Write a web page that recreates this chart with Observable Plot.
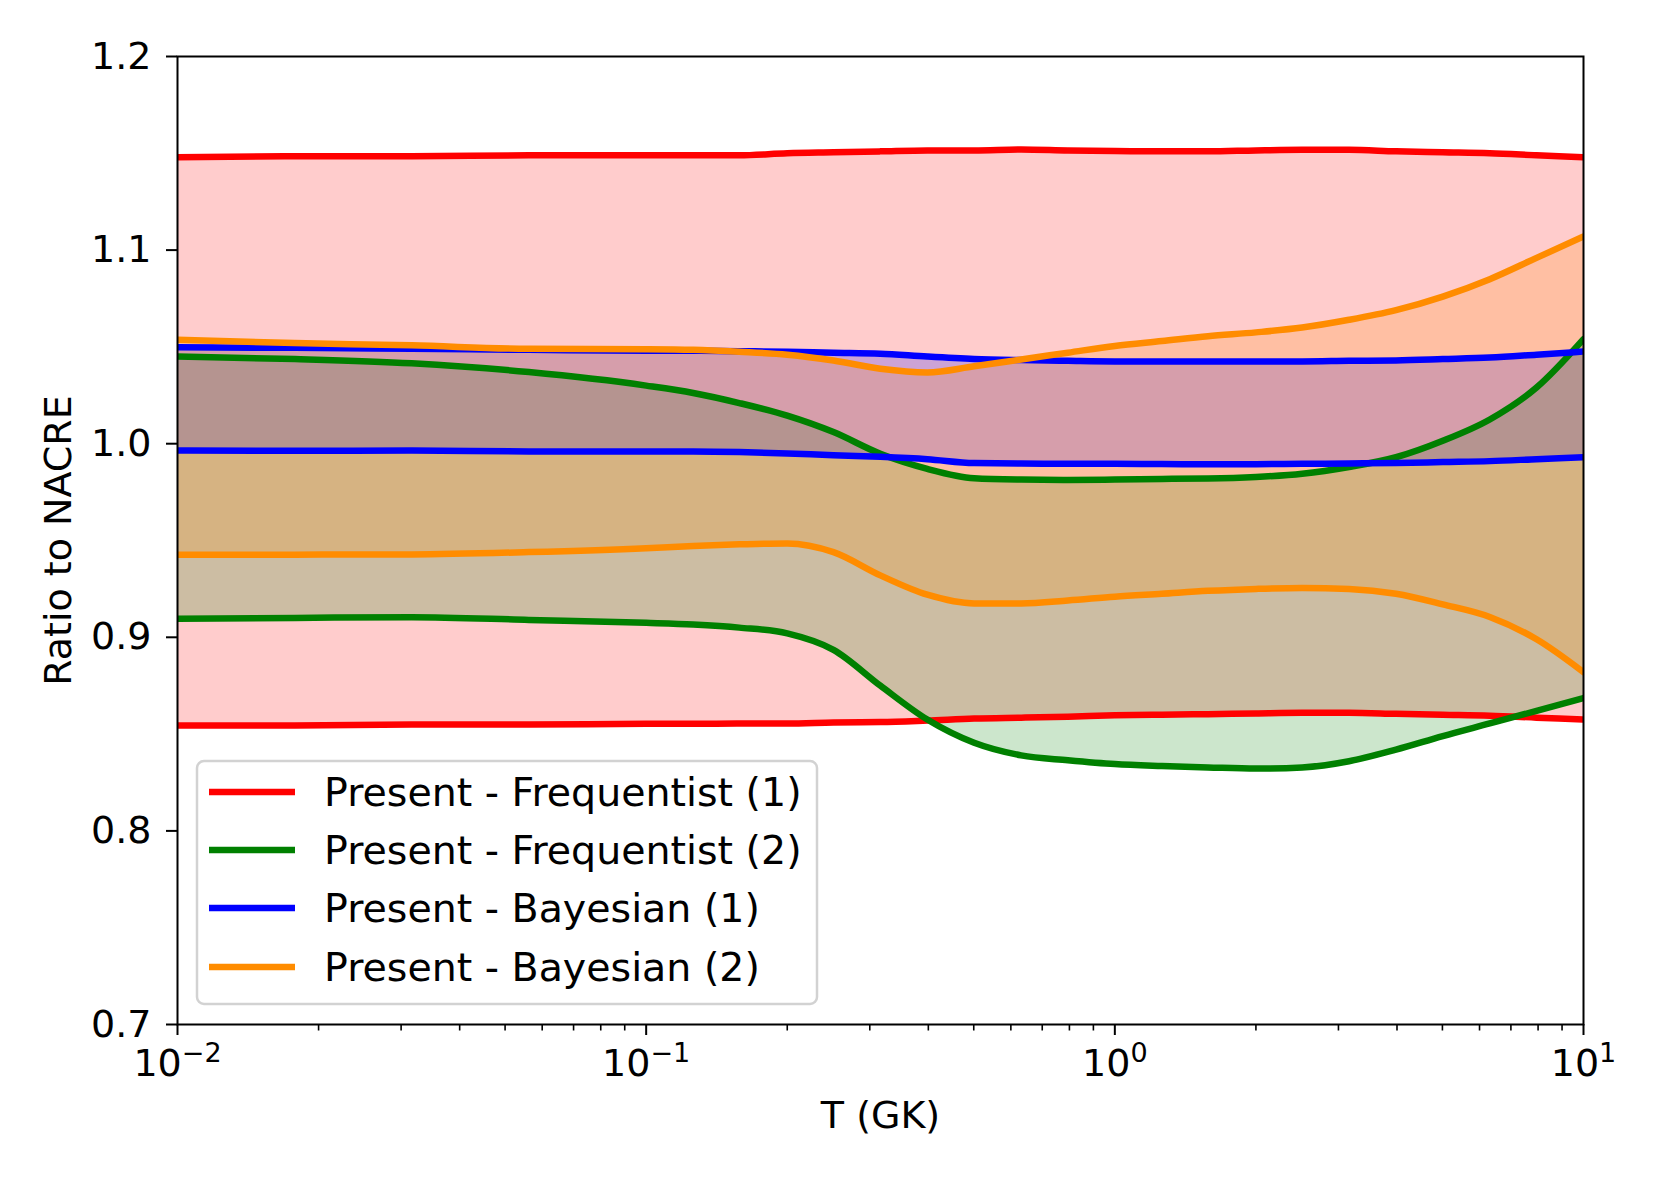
<!DOCTYPE html>
<html>
<head>
<meta charset="utf-8">
<script src="https://cdn.jsdelivr.net/npm/d3@7"></script>
<script src="https://cdn.jsdelivr.net/npm/@observablehq/plot@0.6"></script>
<style>
  html, body { margin: 0; padding: 0; background: white; }
  #chart { width: 1661px; height: 1186px; }
</style>
</head>
<body>
<div id="chart"></div>
<script>
// Temperature grid (GK)
const T = [0.01, 0.0178, 0.0316, 0.0562, 0.1, 0.126, 0.158, 0.2, 0.251, 0.316, 0.398, 0.501, 0.631, 0.794, 1, 1.26, 1.58, 2, 2.51, 3.16, 3.98, 5.01, 6.31, 7.94, 10];

// Present - Frequentist (1)
const freq1Hi = [1.148, 1.1485, 1.1485, 1.149, 1.149, 1.149, 1.149, 1.150, 1.1505, 1.151, 1.1515, 1.1515, 1.152, 1.1515, 1.1512, 1.151, 1.151, 1.1515, 1.1518, 1.1518, 1.151, 1.1505, 1.150, 1.149, 1.148];
const freq1Lo = [0.8545, 0.8545, 0.855, 0.855, 0.8553, 0.8553, 0.8555, 0.8555, 0.856, 0.8562, 0.857, 0.858, 0.8585, 0.859, 0.8597, 0.860, 0.8603, 0.8607, 0.861, 0.861, 0.8605, 0.860, 0.8595, 0.8585, 0.8575];

// Present - Frequentist (2)
const freq2Hi = [1.045, 1.0437, 1.0415, 1.037, 1.030, 1.0262, 1.021, 1.0145, 1.006, 0.9948, 0.9870, 0.9822, 0.9815, 0.9813, 0.9815, 0.9818, 0.982, 0.9828, 0.9845, 0.988, 0.993, 1.0015, 1.0125, 1.029, 1.054];
const freq2Lo = [0.9096, 0.910, 0.9104, 0.909, 0.9075, 0.9066, 0.905, 0.9020, 0.8935, 0.8750, 0.8575, 0.8455, 0.839, 0.8365, 0.8345, 0.8335, 0.8328, 0.8322, 0.8328, 0.8360, 0.8420, 0.8490, 0.8555, 0.8620, 0.8686];

// Present - Bayesian (1)
const bayes1Hi = [1.0498, 1.0495, 1.049, 1.0485, 1.048, 1.048, 1.0478, 1.0475, 1.047, 1.0465, 1.045, 1.0438, 1.0432, 1.0428, 1.0425, 1.0425, 1.0425, 1.0425, 1.0425, 1.0428, 1.043, 1.0437, 1.0445, 1.046, 1.0476];
const bayes1Lo = [0.9965, 0.9963, 0.9965, 0.996, 0.996, 0.996, 0.9957, 0.995, 0.994, 0.9932, 0.992, 0.990, 0.9898, 0.9896, 0.9896, 0.9895, 0.9894, 0.9894, 0.9896, 0.9898, 0.990, 0.9905, 0.991, 0.992, 0.993];

// Present - Bayesian (2)
const bayes2Hi = [1.0537, 1.052, 1.0508, 1.049, 1.0488, 1.0485, 1.0475, 1.046, 1.043, 1.0387, 1.0368, 1.040, 1.0435, 1.047, 1.0505, 1.053, 1.0555, 1.0575, 1.060, 1.064, 1.069, 1.076, 1.085, 1.096, 1.107];
const bayes2Lo = [0.9426, 0.9427, 0.9428, 0.944, 0.946, 0.9472, 0.948, 0.9485, 0.944, 0.932, 0.922, 0.9175, 0.9175, 0.919, 0.921, 0.9225, 0.924, 0.925, 0.9255, 0.925, 0.9225, 0.917, 0.9105, 0.899, 0.882];

const seriesNames = ["Present - Frequentist (1)", "Present - Frequentist (2)", "Present - Bayesian (1)", "Present - Bayesian (2)"];
const seriesColors = ["#ff0000", "#008000", "#0000ff", "#ff8c00"];
const seriesHi = [freq1Hi, freq2Hi, bayes1Hi, bayes2Hi];
const seriesLo = [freq1Lo, freq2Lo, bayes1Lo, bayes2Lo];

const xMajorTicks = [0.01, 0.1, 1, 10];
const xMajorLabels = ["10^−2", "10^−1", "10^0", "10^1"];
const xMinorTicks = [0.02,0.03,0.04,0.05,0.06,0.07,0.08,0.09,0.2,0.3,0.4,0.5,0.6,0.7,0.8,0.9,2,3,4,5,6,7,8,9];
const yTicks = [0.7, 0.8, 0.9, 1.0, 1.1, 1.2];

const tables = seriesNames.map((name, i) => T.map((t, j) => ({T: t, hi: seriesHi[i][j], lo: seriesLo[i][j], name})));

const FONT = "DejaVu Sans";
const curve = "monotone-x";
const LW = 6.5;

const marks = [];
tables.forEach((tab, i) => {
  marks.push(Plot.areaY(tab, {x: "T", y1: "lo", y2: "hi", fill: seriesColors[i], fillOpacity: 0.2, curve, clip: true}));
});
tables.forEach((tab, i) => {
  marks.push(Plot.lineY(tab, {x: "T", y: "hi", stroke: seriesColors[i], strokeWidth: LW, curve, clip: true}));
  marks.push(Plot.lineY(tab, {x: "T", y: "lo", stroke: seriesColors[i], strokeWidth: LW, curve, clip: true}));
});
marks.push(Plot.frame({stroke: "black", strokeWidth: 2}));
marks.push(Plot.axisY({ticks: yTicks, tickFormat: d3.format(".1f"), tickSize: 11, tickPadding: 15, fontSize: 38, strokeWidth: 2, label: null}));
marks.push(Plot.axisX({ticks: xMajorTicks, tickFormat: (d) => xMajorLabels[xMajorTicks.indexOf(d)], tickSize: 11, tickPadding: 14, fontSize: 38, strokeWidth: 2, label: null}));
marks.push(Plot.axisX({ticks: xMinorTicks, tickFormat: () => "", tickSize: 6.5, strokeWidth: 1.6, label: null}));
marks.push(Plot.text(["T (GK)"], {frameAnchor: "bottom", dy: 91, fontSize: 38, lineAnchor: "middle"}));
marks.push(Plot.text(["Ratio to NACRE"], {frameAnchor: "left", dx: -119, rotate: -90, fontSize: 38, lineAnchor: "middle", textAnchor: "middle"}));

const chart = Plot.plot({
  width: 1661,
  height: 1186,
  marginLeft: 177,
  marginRight: 78,
  marginTop: 56,
  marginBottom: 162,
  style: {fontFamily: FONT, fontSize: "38px", background: "white", color: "black"},
  x: {type: "log", domain: [0.01, 10], axis: null, label: null},
  y: {domain: [0.7, 1.2], axis: null, label: null},
  marks
});

// superscript exponents for the major x tick labels
d3.select(chart).selectAll("text").each(function() {
  const s = this.textContent;
  if (s.includes("^")) {
    const [base, exp] = s.split("^");
    const t = d3.select(this);
    t.text(null);
    t.append("tspan").text(base);
    t.append("tspan").attr("font-size", 27).attr("dy", -14).text(exp);
  }
});

// legend (drawn inside the plot area, lower left)
const svg = d3.select(chart);
const lg = svg.append("g").attr("font-family", FONT).attr("font-size", 39.5).attr("text-anchor", "start");
lg.append("rect").attr("x", 197).attr("y", 761).attr("width", 620).attr("height", 243)
  .attr("rx", 7).attr("fill", "white").attr("fill-opacity", 0.8)
  .attr("stroke", "#d2d2d2").attr("stroke-width", 2.5);
const rowY = [792, 850, 908, 967];
seriesNames.forEach((name, i) => {
  lg.append("line").attr("x1", 209).attr("x2", 295).attr("y1", rowY[i]).attr("y2", rowY[i])
    .attr("stroke", seriesColors[i]).attr("stroke-width", LW);
  lg.append("text").attr("x", 324).attr("y", rowY[i]).attr("dy", "0.36em")
    .attr("text-anchor", "start").attr("fill", "black").text(name);
});

document.getElementById("chart").appendChild(chart);
</script>
</body>
</html>
